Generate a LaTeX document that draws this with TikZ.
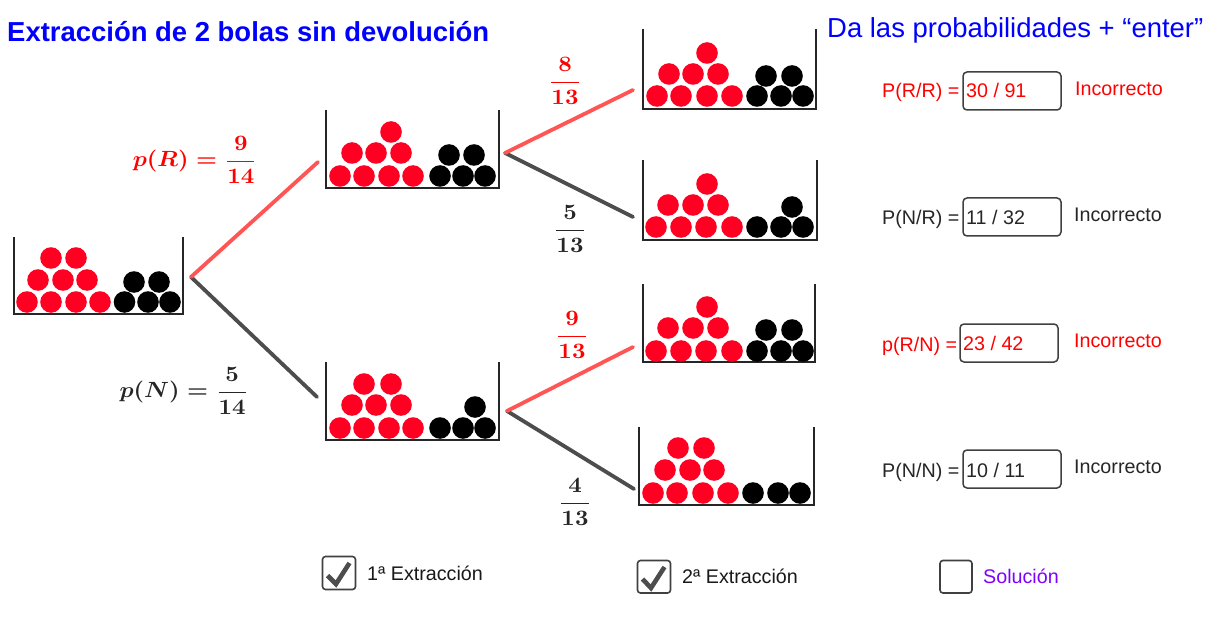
\documentclass[tikz,border=0pt]{standalone}
\usepackage{amsmath}
\usepackage{fontspec}
\setmainfont{Liberation Sans}
\definecolor{ballred}{HTML}{FF0022}
\definecolor{redline}{HTML}{FF5555}
\definecolor{darkline}{HTML}{4D4D4D}
\definecolor{titleblue}{HTML}{0000FF}
\definecolor{solpurple}{HTML}{8000FF}
\definecolor{boxgray}{HTML}{404040}
\newcommand{\urnbox}[4]{\draw[urnline] (#1,#3) -- (#1,#4) -- (#2,#4) -- (#2,#3);}
\newcommand{\redballs}[1]{\foreach \bx/\by in {#1} \fill[ballred] (\bx,\by) circle[radius=10.8pt];}
\newcommand{\blackballs}[1]{\foreach \bx/\by in {#1} \fill[black] (\bx,\by) circle[radius=10.8pt];}
\tikzset{
  urnline/.style={line width=2.1pt,draw=black!85,line join=miter},
  redbranch/.style={line width=3.8pt,draw=redline,line cap=round},
  darkbranch/.style={line width=3.8pt,draw=darkline,line cap=round},
  mathlabel/.style={inner sep=0pt,xscale=2.35,yscale=2.2},
  ui/.style={inner sep=0pt,anchor=base west,font=\fontsize{19.7}{22}\selectfont},
  ansbox/.style={draw=boxgray,line width=1.5pt,rounded corners=4pt,fill=white},
  chkbox/.style={draw=boxgray,line width=1.6pt,rounded corners=3pt,fill=white},
  chkmark/.style={draw=darkline,line width=4.6pt,line join=miter},
}
\begin{document}
\begin{tikzpicture}[x=1pt,y=-1pt]
\useasboundingbox (0,0) rectangle (1209,620);
\fill[white] (0,0) rectangle (1209,620);

% junctions
\coordinate (s0) at (191,277);
\coordinate (e1) at (318,162);
\coordinate (e2) at (317,397);
\coordinate (s1) at (505,153);
\coordinate (s2) at (507,411);
\coordinate (e3) at (633,90);
\coordinate (e4) at (633,217);
\coordinate (e5) at (633,347);
\coordinate (e6) at (634,489);

% branches
\draw[darkbranch] (s0) -- (e2);
\draw[redbranch] (s0) -- (e1);
\draw[darkbranch] (s1) -- (e4);
\draw[redbranch] (s1) -- (e3);
\draw[darkbranch] (s2) -- (e6);
\draw[redbranch] (s2) -- (e5);

% urn 0
\urnbox{14}{183}{237}{314}
\redballs{27/302,51/302,76/302,100/302,38/280,63/280,87/280,51/258,76/258}
\blackballs{124.5/302,148/302,170/302,134/282,159/282}
% urn R
\urnbox{326}{499}{110}{188}
\redballs{340/176,364/176,389/176,413/176,352/153,376/153,401/153,391/132}
\blackballs{440/176,463/176,485/176,449/155,474/155}
% urn N
\urnbox{326}{499}{362}{440}
\redballs{340/428,364/428,389/428,413/428,352/405,376/405,401/405,364/384,391/384}
\blackballs{440/428,463/428,485/428,475/407}
% urn RR
\urnbox{643}{816}{29}{109}
\redballs{657/96,681/96,707/96,732/96,669/74,693/74,718/74,707/53}
\blackballs{757/96,781/96,803/96,766/76,792/76}
% urn NR
\urnbox{643}{817}{160}{240}
\redballs{656/227,681/227,706/227,732/227,668/205,693/205,718/205,707/184}
\blackballs{757/227,781/227,803/227,792/207}
% urn RN
\urnbox{643}{815}{284}{362}
\redballs{656/351,681/351,706/351,732/351,668/328,693/328,718/328,707/307}
\blackballs{757/351,781/351,803/351,766/330,792/330}
% urn NN
\urnbox{639}{814}{427}{505}
\redballs{653/493,677/493,703/493,728/493,665/470,690/470,714/470,678/448,704/448}
\blackballs{753/493,778/493,800/493}

% titles
\node[inner sep=0pt,anchor=base west,text=titleblue,font=\bfseries\fontsize{27.45}{30}\selectfont] (title) at (7,42) {Extracción de 2 bolas sin devolución};
\node[inner sep=0pt,anchor=base west,text=titleblue,font=\fontsize{27.45}{30}\selectfont] (hint) at (827,38) {Da las probabilidades + “enter”};

% math labels
\boldmath
\node[mathlabel,text=red] (pR) at (195,160) {$p(R)=\dfrac{9}{14}$};
\node[mathlabel,text=black!85] (pN) at (184,391) {$p(N)=\dfrac{5}{14}$};
\node[mathlabel,text=red] (f1) at (565,81) {$\dfrac{8}{13}$};
\node[mathlabel,text=black!85] (f2) at (570,229) {$\dfrac{5}{13}$};
\node[mathlabel,text=red] (f3) at (572,335) {$\dfrac{9}{13}$};
\node[mathlabel,text=black!85] (f4) at (575,502) {$\dfrac{4}{13}$};
\unboldmath

% answer rows
\node[ui,text=red] (l1) at (882,98) {P(R/R) =};
\draw[ansbox] (963,72) rectangle (1061,110);
\node[ui,text=red] (a1) at (966,98) {30 / 91};
\node[ui,text=red] (r1) at (1075,96) {Incorrecto};

\node[ui,text=black!85] (l2) at (882,225) {P(N/R) =};
\draw[ansbox] (963,198) rectangle (1061,236);
\node[ui,text=black!85] (a2) at (966,225) {11 / 32};
\node[ui,text=black!85] (r2) at (1074,222) {Incorrecto};

\node[ui,text=red] (l3) at (882,351) {p(R/N) =};
\draw[ansbox] (960,324) rectangle (1058,362);
\node[ui,text=red] (a3) at (963,350) {23 / 42};
\node[ui,text=red] (r3) at (1074,347) {Incorrecto};

\node[ui,text=black!85] (l4) at (882,477) {P(N/N) =};
\draw[ansbox] (963,450) rectangle (1061,488);
\node[ui,text=black!85] (a4) at (966,477) {10 / 11};
\node[ui,text=black!85] (r4) at (1074,473) {Incorrecto};

% checkboxes
\draw[chkbox] (322.5,556.5) rectangle (355.5,589.5);
\draw[chkmark] (327.5,575.5) -- (336,584) -- (349.5,563);
\node[ui,text=black!90] (c1) at (367,580) {1ª Extracción};
\draw[chkbox] (637.5,560.5) rectangle (670.5,593);
\draw[chkmark] (642.5,579) -- (651,588) -- (664.5,567);
\node[ui,text=black!90] (c2) at (682,583) {2ª Extracción};
\draw[chkbox] (940,560.5) rectangle (972,593);
\node[ui,text=solpurple] (c3) at (983,583) {Solución};
\end{tikzpicture}
\end{document}
